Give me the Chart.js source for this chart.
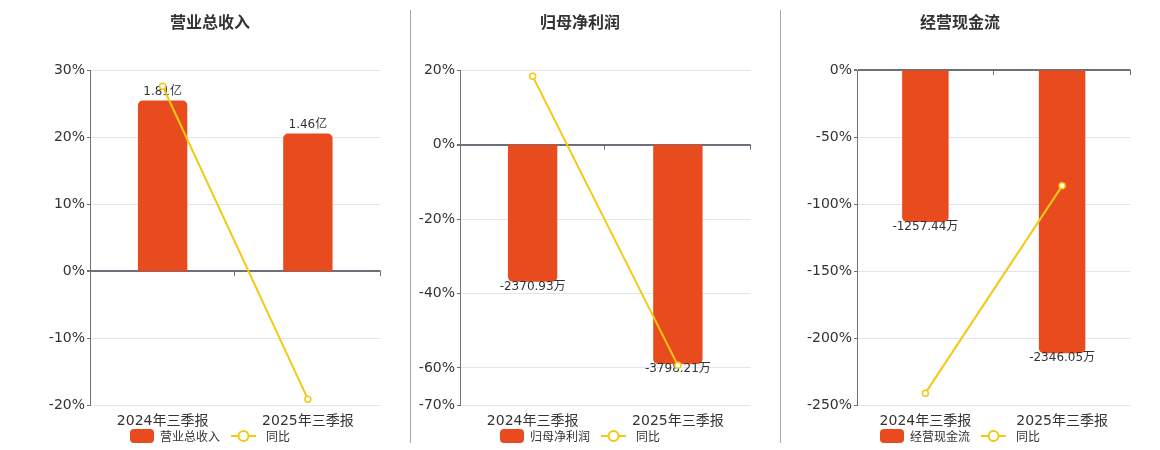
<!DOCTYPE html>
<html>
<head>
<meta charset="utf-8">
<script src="https://cdn.jsdelivr.net/npm/chart.js@4/dist/chart.umd.min.js"></script>
<style>
    html, body { margin: 0; padding: 0; background: #fff; }
    #wrap { position: relative; width: 1160px; height: 450px; overflow: hidden; }
    .panel { position: absolute; top: 0; width: 352px; height: 450px; }
    .sep { position: absolute; top: 10px; width: 1px; height: 433px; background: #a9a9a3; }
</style>
</head>
<body>
<div id="wrap">
    <div class="sep" style="left:410px"></div>
    <div class="sep" style="left:780px"></div>
    <div class="panel" style="left:34px"><canvas id="revenueChart" width="352" height="450"></canvas></div>
    <div class="panel" style="left:404px"><canvas id="profitChart" width="352" height="450"></canvas></div>
    <div class="panel" style="left:784px"><canvas id="cashChart" width="352" height="450"></canvas></div>
</div>
<script>
// 报告期
const periods = ['2024年三季报', '2025年三季报'];

// 营业总收入（亿）及同比（%）
const revenueValues = [1.81, 1.46];
const revenueYoy = [27.6, -19.1];
const revenueTicks = [30, 20, 10, 0, -10, -20];

// 归母净利润（万）及同比（%）
const profitValues = [-2370.93, -3798.21];
const profitYoy = [18.4, -59.3];
const profitTicks = [20, 0, -20, -40, -60, -70];

// 经营现金流（万）及同比（%）
const cashValues = [-1257.44, -2346.05];
const cashYoy = [-241, -86.3];
const cashTicks = [0, -50, -100, -150, -200, -250];

const BAR_COLOR = '#e84c1e';
const LINE_COLOR = '#f3c913';
const AXIS_COLOR = '#6e7079';
const GRID_COLOR = '#e0e6f1';
const TEXT_COLOR = '#333';
const CJK_FONT = '"Noto Sans CJK SC", sans-serif';
const NUM_FONT = '"DejaVu Sans", "Noto Sans CJK SC", sans-serif';

// 柱子数值标签
const barLabelPlugin = {
    id: 'barLabels',
    afterDatasetDraw(chart, args) {
        if (args.index !== 0) return;
        const ctx = chart.ctx;
        const unit = chart.options.plugins.barLabels.unit;
        const values = chart.data.datasets[0].data;
        ctx.save();
        ctx.font = '12px ' + NUM_FONT;
        ctx.fillStyle = TEXT_COLOR;
        ctx.textAlign = 'center';
        args.meta.data.forEach(function(bar, i) {
            const v = values[i];
            if (v >= 0) {
                ctx.textBaseline = 'bottom';
                ctx.fillText(v.toFixed(2) + unit, bar.x, bar.y - 3);
            } else {
                ctx.textBaseline = 'middle';
                ctx.fillText(v.toFixed(2) + unit, bar.x, bar.y + 5);
            }
        });
        ctx.restore();
    }
};

// 零轴上的分类刻度
const zeroTickPlugin = {
    id: 'zeroTicks',
    afterDatasetsDraw(chart) {
        const x = chart.scales.x;
        const y0 = chart.scales.y.getPixelForValue(0);
        const n = chart.data.labels.length;
        const ctx = chart.ctx;
        ctx.save();
        ctx.strokeStyle = AXIS_COLOR;
        ctx.lineWidth = 1;
        for (let k = 1; k <= n; k++) {
            const px = Math.round(x.left + k * (x.right - x.left) / n) - 0.5;
            ctx.beginPath();
            ctx.moveTo(px, y0);
            ctx.lineTo(px, y0 + 5);
            ctx.stroke();
        }
        ctx.restore();
    }
};

// 底部图例（色块 + 折线圆点）
const bottomLegendPlugin = {
    id: 'bottomLegend',
    afterDraw(chart) {
        const ctx = chart.ctx;
        const names = chart.data.datasets.map(function(d) { return d.label; });
        const y = chart.options.plugins.bottomLegend.y;
        ctx.save();
        ctx.font = '12px ' + CJK_FONT;
        const w0 = ctx.measureText(names[0]).width;
        const w1 = ctx.measureText(names[1]).width;
        const total = 24 + 6 + w0 + 11 + 25 + 10 + w1;
        let x = Math.round(chart.width / 2 - total / 2);
        // 色块
        ctx.fillStyle = BAR_COLOR;
        ctx.beginPath();
        ctx.roundRect(x, y - 7, 24, 14, 4);
        ctx.fill();
        x += 30;
        ctx.fillStyle = TEXT_COLOR;
        ctx.textBaseline = 'middle';
        ctx.fillText(names[0], x, y);
        x += w0 + 11;
        // 折线
        ctx.strokeStyle = LINE_COLOR;
        ctx.lineWidth = 2;
        ctx.beginPath();
        ctx.moveTo(x, y);
        ctx.lineTo(x + 25, y);
        ctx.stroke();
        ctx.fillStyle = '#fff';
        ctx.beginPath();
        ctx.arc(x + 12.5, y, 5, 0, Math.PI * 2);
        ctx.fill();
        ctx.stroke();
        x += 35;
        ctx.fillStyle = TEXT_COLOR;
        ctx.fillText(names[1], x, y);
        ctx.restore();
    }
};

function initializeChart(canvasId, title, name, values, yoy, ticks, unit, barMin, barMax, axisWidth) {
    const ctx = document.getElementById(canvasId).getContext('2d');

    const data = {
        labels: periods,
        datasets: [{
            type: 'bar',
            label: name,
            data: values,
            yAxisID: 'y1',
            backgroundColor: BAR_COLOR,
            borderRadius: 5,
            barPercentage: 0.34,
            categoryPercentage: 1,
            order: 2
        }, {
            type: 'line',
            label: '同比',
            data: yoy,
            yAxisID: 'y',
            borderColor: LINE_COLOR,
            borderWidth: 2,
            pointRadius: 3,
            pointBorderWidth: 1.5,
            pointBackgroundColor: '#fff',
            pointBorderColor: LINE_COLOR,
            order: 1
        }]
    };

    const options = {
        responsive: false,
        animation: false,
        layout: { padding: { bottom: 12 } },
        plugins: {
            title: {
                display: true,
                text: title,
                color: TEXT_COLOR,
                font: { family: CJK_FONT, size: 16, weight: 'bold' },
                padding: { top: 12, bottom: 39 }
            },
            legend: { display: false },
            tooltip: { enabled: false },
            barLabels: { unit: unit },
            bottomLegend: { y: 436 }
        },
        scales: {
            x: {
                grid: { display: false, drawTicks: false },
                border: { display: false },
                ticks: { color: TEXT_COLOR, padding: 8, font: { family: NUM_FONT, size: 14 } }
            },
            y: {
                min: ticks[ticks.length - 1],
                max: ticks[0],
                afterFit: function(scale) { scale.width = axisWidth; },
                afterBuildTicks: function(scale) {
                    scale.ticks = ticks.slice().reverse().map(function(v) { return { value: v }; });
                },
                border: { color: AXIS_COLOR, width: 1 },
                grid: {
                    tickLength: 3,
                    tickColor: AXIS_COLOR,
                    color: function(c) { return c.tick && c.tick.value === 0 ? AXIS_COLOR : GRID_COLOR; },
                    lineWidth: function(c) { return c.tick && c.tick.value === 0 ? 2 : 1; }
                },
                ticks: {
                    color: TEXT_COLOR,
                    padding: 2,
                    font: { family: NUM_FONT, size: 14 },
                    callback: function(v) { return v + '%'; }
                }
            },
            y1: {
                display: false,
                min: barMin,
                max: barMax
            }
        }
    };

    new Chart(ctx, {
        data: data,
        options: options,
        plugins: [barLabelPlugin, zeroTickPlugin, bottomLegendPlugin]
    });
}

initializeChart('revenueChart', '营业总收入', '营业总收入', revenueValues, revenueYoy, revenueTicks, '亿', -1.42, 2.13, 56);
initializeChart('profitChart', '归母净利润', '归母净利润', profitValues, profitYoy, profitTicks, '万', -4510, 1289, 56);
initializeChart('cashChart', '经营现金流', '经营现金流', cashValues, cashYoy, cashTicks, '万', -2777, 0, 73);
</script>
</body>
</html>
